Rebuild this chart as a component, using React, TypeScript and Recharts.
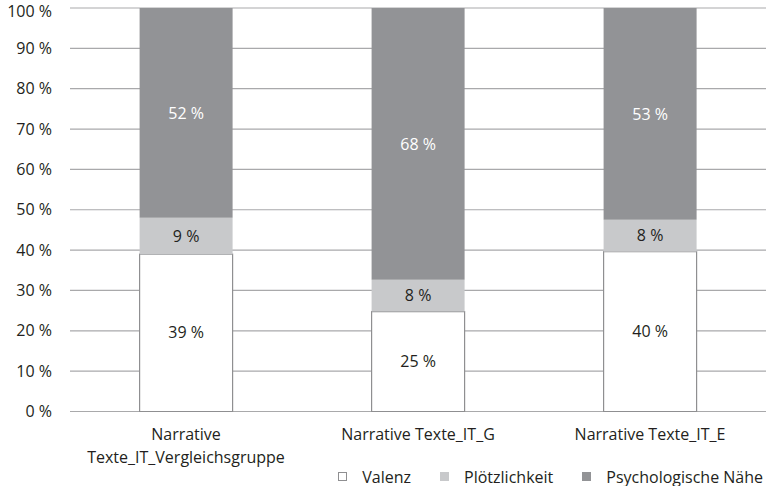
import React from 'react';
import {
  BarChart,
  Bar,
  XAxis,
  YAxis,
  CartesianGrid,
  Legend,
  LabelList,
  Text
} from 'recharts';

const categories = [
  'Narrative Texte_IT_Vergleichsgruppe',
  'Narrative Texte_IT_G',
  'Narrative Texte_IT_E'
];
const valenz = [39, 25, 40];
const ploetzlichkeit = [9, 8, 8];
const psychNaehe = [52, 68, 53];
const yTicks = [0, 0.1, 0.2, 0.3, 0.4, 0.5, 0.6, 0.7, 0.8, 0.9, 1];

const series = [
  { key: 'valenz', name: 'Valenz', fill: '#ffffff', stroke: '#8f8f91', text: '#231f20' },
  { key: 'ploetz', name: 'Plötzlichkeit', fill: '#c8c9cb', stroke: 'none', text: '#231f20' },
  { key: 'psych', name: 'Psychologische Nähe', fill: '#929396', stroke: 'none', text: '#ffffff' }
];

const data = categories.map((name, i) => ({
  name,
  valenz: valenz[i],
  ploetz: ploetzlichkeit[i],
  psych: psychNaehe[i]
}));

const FONT = '"Open Sans", sans-serif';
const FS = 16;

// category tick, wraps long names
function CategoryTick(props: any) {
  const { x, y, payload } = props;
  return (
    <Text
      x={x}
      y={y}
      width={230}
      textAnchor="middle"
      verticalAnchor="start"
      fontSize={FS}
      fontFamily={FONT}
      fill="#231f20"
      lineHeight={23}
    >
      {payload.value}
    </Text>
  );
}

function LegendContent() {
  return (
    <div
      style={{
        display: 'flex',
        justifyContent: 'flex-end',
        alignItems: 'center',
        fontFamily: FONT,
        fontSize: FS,
        color: '#231f20',
        paddingRight: 3,
        paddingTop: 4
      }}
    >
      {series.map((s) => (
        <div key={s.key} style={{ display: 'flex', alignItems: 'center', marginLeft: 29 }}>
          <span
            style={{
              display: 'inline-block',
              width: 7,
              height: 7,
              background: s.fill,
              border: s.key === 'valenz' ? '1px solid #8f8f91' : '1px solid ' + s.fill,
              marginRight: 15
            }}
          />
          <span>{s.name}</span>
        </div>
      ))}
    </div>
  );
}

export default function App() {
  return (
    <div style={{ width: 768, height: 486, background: '#fff' }}>
      <style>{'body{margin:0}'}</style>
      <BarChart
        width={768}
        height={486}
        data={data}
        stackOffset="expand"
        barCategoryGap="30%"
        margin={{ top: 8, right: 2, bottom: 0, left: 0 }}
      >
        <CartesianGrid vertical={false} stroke="#a9a9ab" strokeWidth={1.2} />
        <XAxis
          dataKey="name"
          axisLine={false}
          tickLine={false}
          tick={<CategoryTick />}
          tickMargin={11}
          height={50}
          interval={0}
        />
        <YAxis
          width={70}
          domain={[0, 1]}
          ticks={yTicks}
          axisLine={false}
          tickLine={false}
          tickSize={0}
          tickMargin={18}
          tickFormatter={(v: number) => `${Math.round(v * 100)} %`}
          tick={{ fontSize: FS, fontFamily: FONT, fill: '#231f20' }}
        />
        <Legend verticalAlign="bottom" height={24.5} content={<LegendContent />} />
        {series.map((s) => (
          <Bar
            key={s.key}
            dataKey={s.key}
            name={s.name}
            stackId="a"
            fill={s.fill}
            stroke={s.stroke}
            strokeWidth={1.2}
            isAnimationActive={false}
          >
            <LabelList
              dataKey={s.key}
              position="center"
              formatter={(v: any) => `${v} %`}
              style={{ fontSize: FS, fontFamily: FONT, fill: s.text }}
            />
          </Bar>
        ))}
      </BarChart>
    </div>
  );
}
